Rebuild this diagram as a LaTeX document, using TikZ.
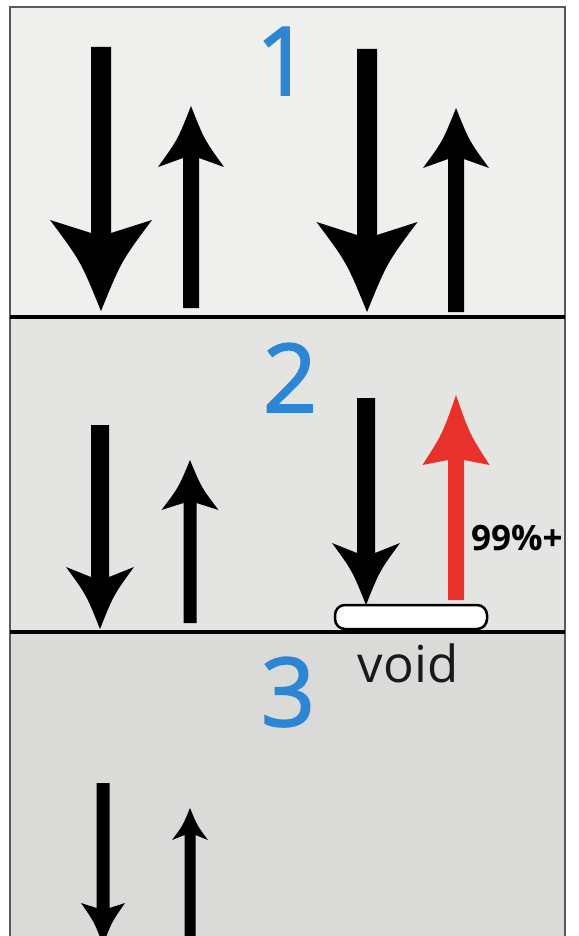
\documentclass[tikz,border=0pt]{standalone}
\usepackage{fontspec}
\setmainfont{Open Sans}
\newfontfamily\numfont[FakeBold=1.8]{Open Sans}
\definecolor{bgone}{RGB}{239,239,237}
\definecolor{bgtwo}{RGB}{228,228,226}
\definecolor{bgthree}{RGB}{218,218,216}
\definecolor{numblue}{RGB}{44,134,212}
\definecolor{spinred}{RGB}{232,49,42}
\definecolor{framegray}{RGB}{90,90,90}
\newcommand{\spinarrow}[8]{%
 \fill[#8] ({#1-#4/2},#2) -- ({#1-#4/2},#7) -- ({#1-#5/2},#6)
   .. controls ({#1-0.2*#5},{#6+0.45*(#3-#6)}) .. (#1,#3)
   .. controls ({#1+0.2*#5},{#6+0.45*(#3-#6)}) .. ({#1+#5/2},#6)
   -- ({#1+#4/2},#7) -- ({#1+#4/2},#2) -- cycle;}
\tikzset{
  numlabel/.style={text=numblue,font=\numfont\fontsize{95}{95}\selectfont,inner sep=0pt,anchor=base},
  sepline/.style={line width=4.5pt,black},
  voidbox/.style={draw=black,fill=white,line width=2.5pt,rounded corners=10pt},
}
\begin{document}
\begin{tikzpicture}[x=1pt,y=-1pt]
\useasboundingbox (0,0) rectangle (578,936);
\clip (0,0) rectangle (578,936);
\fill[white] (0,0) rectangle (578,936);
% panel backgrounds
\fill[bgone] (10,7) rectangle (565,317);
\fill[bgtwo] (10,317) rectangle (565,632);
\fill[bgthree] (10,632) rectangle (565,940);
\draw[framegray,line width=1.5pt] (10,945) -- (10,7) -- (565,7) -- (565,945);
% labels
\node[numlabel] (n1) at (283,95) {1};
\node[numlabel] (n2) at (290,412) {2};
\node[numlabel] (n3) at (288,726) {3};
% panel 1 arrows
\spinarrow{101}{47}{311}{20}{102}{220}{233}{black}
\spinarrow{191}{308}{106}{16}{66}{167}{158}{black}
\spinarrow{367}{49}{312}{20}{101}{222}{235}{black}
\spinarrow{456}{312}{108}{16}{66}{168}{159}{black}
% separators
\draw[sepline] (10,317) -- (565,317);
\draw[sepline] (10,632) -- (565,632);
% panel 2 arrows
\spinarrow{100}{425}{629}{18}{68}{567}{577}{black}
\spinarrow{190}{623}{460}{13}{57}{510}{503}{black}
\spinarrow{366}{398}{605}{18}{68}{543}{553}{black}
\spinarrow{456}{600}{395}{16}{67}{465}{460}{spinred}
\node[font=\bfseries\fontsize{35}{35}\selectfont,inner sep=0pt,anchor=base west] (pct) at (471,550) {99\%+};
\node[voidbox,minimum width=152pt,minimum height=24pt,inner sep=0pt] (void) at (411,617) {};
\node[font=\fontsize{51}{51}\selectfont,text={black!90},inner sep=0pt,anchor=base] (voidlbl) at (408,682) {void};
% panel 3 arrows
\spinarrow{103}{783}{945}{13}{44}{903}{908}{black}
\spinarrow{190}{945}{808}{11}{36}{840}{835}{black}
\end{tikzpicture}
\end{document}
